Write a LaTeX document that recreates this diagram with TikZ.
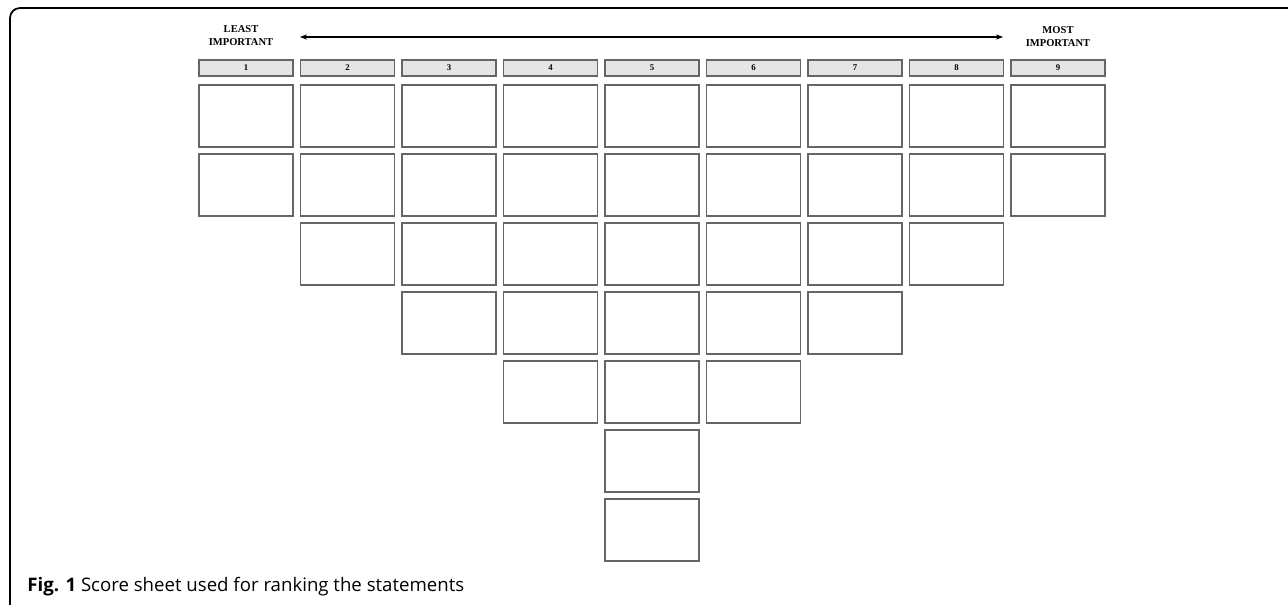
\documentclass[tikz,border=0pt]{standalone}
\usepackage{fontspec}
\setmainfont{Liberation Serif}
\newfontfamily\capfont{Open Sans}
\usetikzlibrary{arrows.meta,positioning}

\tikzset{
  card/.style={draw=black!60, line width=0.9pt, fill=white, inner sep=0pt, outer sep=0pt,
    minimum width=1.88cm, minimum height=1.24cm},
  head/.style={card, fill=black!10, minimum height=0.32cm,
    font=\bfseries\fontsize{5}{6}\selectfont},
  endlabel/.style={align=center, inner sep=0pt, font=\bfseries\fontsize{6}{7.4}\selectfont},
}

\begin{document}
\begin{tikzpicture}[x=0.02cm, y=-0.02cm]
  \useasboundingbox (0,0) rectangle (1288,605);
  % outer frame
  \draw[line width=1pt, rounded corners=0.2cm] (10,8) rectangle (1310,614);

  % scale at the top
  \node[endlabel] (least) at (241,36) {LEAST\\IMPORTANT};
  \node[endlabel] (most) at (1058,37) {MOST\\IMPORTANT};
  \coordinate (arrL) at (300,37);
  \coordinate (arrR) at (1003,37);
  \draw[line width=0.6pt, {Stealth[length=4pt,width=3pt]}-{Stealth[length=4pt,width=3pt]}] (arrL) -- (arrR);

  % columns of cards
  \foreach \c/\n in {1/2,2/3,3/4,4/5,5/7,6/5,7/4,8/3,9/2} {
    \node[head] (h\c) at ({246+(\c-1)*101.5},68) {\c};
    \foreach \r in {1,...,\n}
      \node[card] (b\c-\r) at ({246+(\c-1)*101.5},{116+(\r-1)*69}) {};
  }

  \node[anchor=base west, inner sep=0pt, font=\capfont\fontsize{10.6}{12}\selectfont] (caption) at (27,591)
    {{\bfseries Fig. 1} Score sheet used for ranking the statements};
\end{tikzpicture}
\end{document}
